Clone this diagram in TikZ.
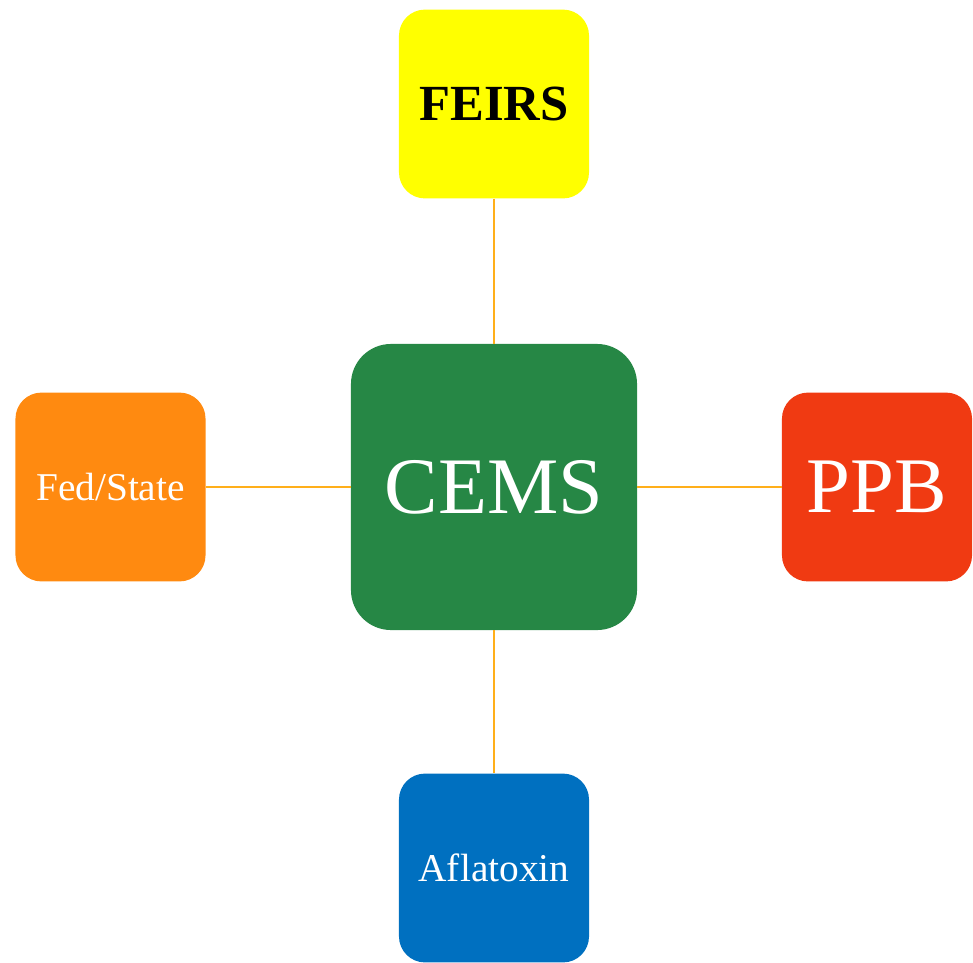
\documentclass[tikz,border=0pt]{standalone}
\usepackage{fontspec}
\setmainfont{Liberation Serif}
\usepackage{tikz}
\usetikzlibrary{positioning}
\definecolor{cemsgreen}{HTML}{268745}
\definecolor{feirsyellow}{HTML}{FFFF00}
\definecolor{fedorange}{HTML}{FF8A10}
\definecolor{ppbred}{HTML}{F03A12}
\definecolor{aflablue}{HTML}{0070C0}
\definecolor{linkorange}{HTML}{FFAF1A}

\tikzset{
  hub/.style={fill=cemsgreen, text=white, rounded corners=1cm, minimum width=7.15cm, minimum height=7.15cm, inner sep=0pt},
  leaf/.style={rounded corners=0.65cm, minimum width=4.75cm, minimum height=4.72cm, inner sep=0pt},
  link/.style={linkorange, line width=1.7pt}
}

\begin{document}
\begin{tikzpicture}[x=0.025cm, y=-0.025cm]
  \useasboundingbox (0,0) rectangle (973,962);
  \node[hub, font=\fontsize{57}{60}\selectfont] (cems) at (494,487) {CEMS};
  \node[leaf, fill=feirsyellow, text=black, font=\fontsize{36}{40}\selectfont\bfseries] (feirs) at (494,104) {FEIRS};
  \node[leaf, fill=fedorange, text=white, font=\fontsize{28}{30}\selectfont] (fed) at (110.5,487) {Fed/State};
  \node[leaf, fill=ppbred, text=white, font=\fontsize{56}{58}\selectfont] (ppb) at (877,487) {PPB};
  \node[leaf, fill=aflablue, text=white, font=\fontsize{28}{30}\selectfont] (afla) at (494,868) {Aflatoxin};
  % links to the hub
  \draw[link] (feirs.south) -- (cems.north);
  \draw[link] (fed.east) -- (cems.west);
  \draw[link] (cems.east) -- (ppb.west);
  \draw[link] (cems.south) -- (afla.north);
\end{tikzpicture}
\end{document}
